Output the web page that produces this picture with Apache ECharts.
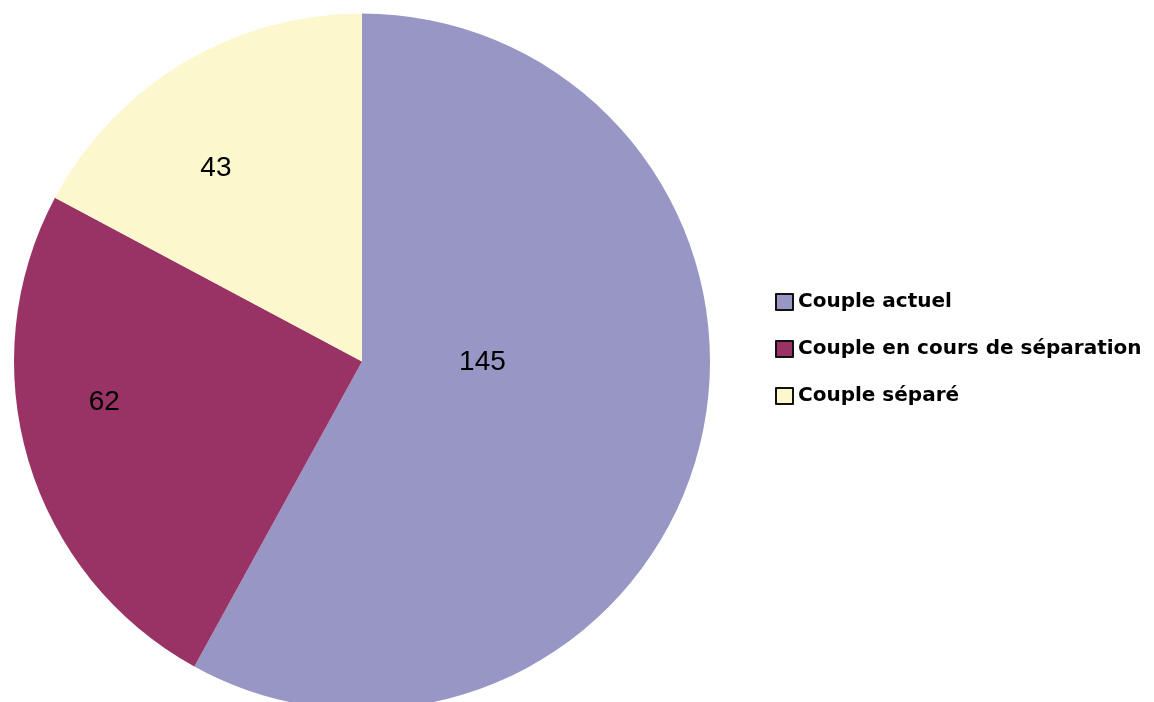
<!DOCTYPE html>
<html>
<head>
<meta charset="utf-8">
<script src="https://cdn.jsdelivr.net/npm/echarts@6/dist/echarts.min.js"></script>
<style>
  html, body { margin: 0; padding: 0; background: #fff; }
  #chart { width: 1154px; height: 702px; }
</style>
</head>
<body>
<div id="chart"></div>
<script>
// Categories and counts
const categories = ['Couple actuel', 'Couple en cours de séparation', 'Couple séparé'];
const counts = [145, 62, 43];
const colors = ['#9896C4', '#993366', '#FDF7CE'];
// Label nudges from the default inside position, in px
const labelOffsets = [[-51, -43], [-88, -10], [-55, -41]];

const chart = echarts.init(document.getElementById('chart'), null, { renderer: 'canvas' });

chart.setOption({
  animation: false,
  color: colors,
  legend: {
    orient: 'vertical',
    left: 775,
    top: 292,
    padding: 0,
    itemWidth: 17,
    itemHeight: 16,
    itemGap: 27,
    icon: 'rect',
    itemStyle: { borderColor: '#111', borderWidth: 2 },
    textStyle: {
      fontFamily: 'DejaVu Sans, sans-serif',
      fontWeight: 'bold',
      fontSize: 20,
      color: '#000'
    },
    data: categories
  },
  series: [{
    type: 'pie',
    center: [362, 361.5],
    radius: [0, 348],
    startAngle: 90,
    clockwise: true,
    label: {
      show: true,
      position: 'inside',
      formatter: '{c}',
      fontFamily: 'Liberation Sans, Arial, sans-serif',
      fontSize: 28,
      color: '#000'
    },
    labelLine: { show: false },
    labelLayout: function (p) {
      const o = labelOffsets[p.dataIndex];
      return { dx: o[0], dy: o[1] };
    },
    itemStyle: { borderWidth: 0 },
    emphasis: { disabled: true },
    data: categories.map((name, i) => ({ name: name, value: counts[i] }))
  }]
});
</script>
</body>
</html>
